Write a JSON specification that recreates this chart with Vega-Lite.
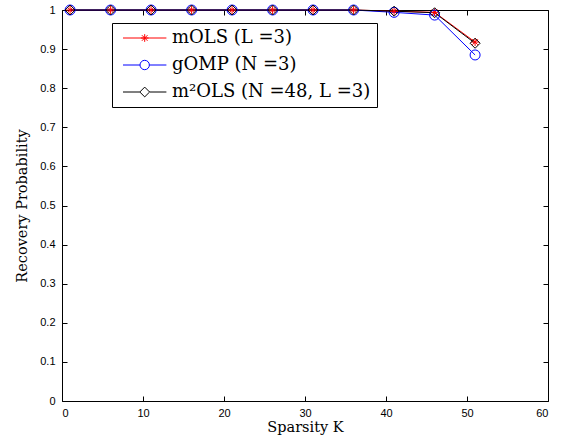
{
  "$schema": "https://vega.github.io/schema/vega-lite/v6.json",
  "width": 486,
  "height": 391,
  "autosize": {"type": "none"},
  "padding": {"left": 62, "top": 10, "right": 20, "bottom": 46},
  "background": "white",
  "config": {
    "view": {"stroke": null},
    "axis": {
      "grid": false,
      "domainColor": "black",
      "domainWidth": 1,
      "tickColor": "black",
      "tickSize": -5,
      "tickWidth": 1,
      "labelFont": "Liberation Sans",
      "labelFontSize": 11,
      "labelColor": "black",
      "titleFont": "DejaVu Serif",
      "titleFontSize": 14.5,
      "titleFontWeight": "normal",
      "titleColor": "black"
    }
  },
  "data": {
    "values": [
      {"S": "mOLS (L =3)", "K": 1, "P": 1},
      {"S": "mOLS (L =3)", "K": 6, "P": 1},
      {"S": "mOLS (L =3)", "K": 11, "P": 1},
      {"S": "mOLS (L =3)", "K": 16, "P": 1},
      {"S": "mOLS (L =3)", "K": 21, "P": 1},
      {"S": "mOLS (L =3)", "K": 26, "P": 1},
      {"S": "mOLS (L =3)", "K": 31, "P": 1},
      {"S": "mOLS (L =3)", "K": 36, "P": 1},
      {"S": "mOLS (L =3)", "K": 41, "P": 0.997},
      {"S": "mOLS (L =3)", "K": 46, "P": 0.994},
      {"S": "mOLS (L =3)", "K": 51, "P": 0.918},
      {"S": "gOMP (N =3)", "K": 1, "P": 1},
      {"S": "gOMP (N =3)", "K": 6, "P": 1},
      {"S": "gOMP (N =3)", "K": 11, "P": 1},
      {"S": "gOMP (N =3)", "K": 16, "P": 1},
      {"S": "gOMP (N =3)", "K": 21, "P": 1},
      {"S": "gOMP (N =3)", "K": 26, "P": 1},
      {"S": "gOMP (N =3)", "K": 31, "P": 1},
      {"S": "gOMP (N =3)", "K": 36, "P": 1},
      {"S": "gOMP (N =3)", "K": 41, "P": 0.994},
      {"S": "gOMP (N =3)", "K": 46, "P": 0.987},
      {"S": "gOMP (N =3)", "K": 51, "P": 0.885},
      {"S": "m²OLS (N =48, L =3)", "K": 1, "P": 1},
      {"S": "m²OLS (N =48, L =3)", "K": 6, "P": 1},
      {"S": "m²OLS (N =48, L =3)", "K": 11, "P": 1},
      {"S": "m²OLS (N =48, L =3)", "K": 16, "P": 1},
      {"S": "m²OLS (N =48, L =3)", "K": 21, "P": 1},
      {"S": "m²OLS (N =48, L =3)", "K": 26, "P": 1},
      {"S": "m²OLS (N =48, L =3)", "K": 31, "P": 1},
      {"S": "m²OLS (N =48, L =3)", "K": 36, "P": 1},
      {"S": "m²OLS (N =48, L =3)", "K": 41, "P": 0.997},
      {"S": "m²OLS (N =48, L =3)", "K": 46, "P": 0.993},
      {"S": "m²OLS (N =48, L =3)", "K": 51, "P": 0.915}
    ]
  },
  "layer": [
    {
      "mark": {"type": "line", "strokeWidth": 1, "opacity": 1},
      "encoding": {
        "x": {"field": "K", "type": "quantitative", "scale": {"domain": [0, 60]},
              "axis": {"orient": "bottom", "values": [0, 10, 20, 30, 40, 50, 60], "title": "Sparsity K", "labelPadding": 11, "titlePadding": 2}},
        "y": {"field": "P", "type": "quantitative", "scale": {"domain": [0, 1]},
              "axis": {"orient": "left", "values": [0, 0.1, 0.2, 0.3, 0.4, 0.5, 0.6, 0.7, 0.8, 0.9, 1], "format": "~g", "title": "Recovery Probability", "labelPadding": 12, "titlePadding": 10}},
        "color": {"field": "S", "type": "nominal",
                  "scale": {"domain": ["mOLS (L =3)", "gOMP (N =3)", "m²OLS (N =48, L =3)"], "range": ["#ff0000", "#0000ff", "#000000"]},
                  "legend": {"orient": "none", "legendX": 50, "legendY": 13, "title": null, "strokeColor": "black", "fillColor": "white", "padding": 6, "rowPadding": 9, "symbolOffset": 3, "labelOffset": 33, "labelLimit": 400, "labelFont": "DejaVu Serif", "labelFontSize": 18, "labelColor": "black", "symbolStrokeWidth": 1, "symbolSize": 196, "symbolOpacity": 1,
                    "encoding": {"symbols": {"size": {"value": 196}, "opacity": {"value": 1}, "fill": {"value": "transparent"}, "shape": {"value": {"expr": "datum.value === 'mOLS (L =3)' ? 'M-1,0H5.2M1.55,0H2.65M2.1,-0.55V0.55M1.7,-0.4L2.5,0.4M1.7,0.4L2.5,-0.4' : datum.value === 'gOMP (N =3)' ? 'M-1,0H1.43M2.77,0H5.2M1.43,0A0.67,0.67,0,1,0,2.77,0A0.67,0.67,0,1,0,1.43,0' : 'M-1,0H1.4M2.8,0H5.2M2.1,-0.7L2.8,0L2.1,0.7L1.4,0Z'"}}}}}}
      }
    },
    {
      "transform": [{"filter": "datum.S === 'mOLS (L =3)'"}],
      "mark": {"type": "point", "filled": false, "strokeWidth": 1, "opacity": 1, "size": 100, "color": "#ff0000", "shape": "M-0.8,0H0.8M0,-0.8V0.8M-0.56,-0.56L0.56,0.56M-0.56,0.56L0.56,-0.56"},
      "encoding": {
        "x": {"field": "K", "type": "quantitative", "axis": null},
        "y": {"field": "P", "type": "quantitative", "axis": null}
      }
    },
    {
      "transform": [{"filter": "datum.S === 'gOMP (N =3)'"}],
      "mark": {"type": "point", "filled": false, "strokeWidth": 1, "opacity": 1, "size": 100, "color": "#0000ff", "shape": "circle"},
      "encoding": {
        "x": {"field": "K", "type": "quantitative", "axis": null},
        "y": {"field": "P", "type": "quantitative", "axis": null}
      }
    },
    {
      "transform": [{"filter": "datum.S === 'm²OLS (N =48, L =3)'"}],
      "mark": {"type": "point", "filled": false, "strokeWidth": 1, "opacity": 1, "size": 100, "color": "#000000", "shape": "diamond"},
      "encoding": {
        "x": {"field": "K", "type": "quantitative",
              "axis": {"orient": "top", "values": [0, 10, 20, 30, 40, 50, 60], "labels": false, "title": null}},
        "y": {"field": "P", "type": "quantitative",
              "axis": {"orient": "right", "values": [0, 0.1, 0.2, 0.3, 0.4, 0.5, 0.6, 0.7, 0.8, 0.9, 1], "labels": false, "title": null}}
      }
    }
  ],
  "resolve": {"axis": {"x": "independent", "y": "independent"}}
}
